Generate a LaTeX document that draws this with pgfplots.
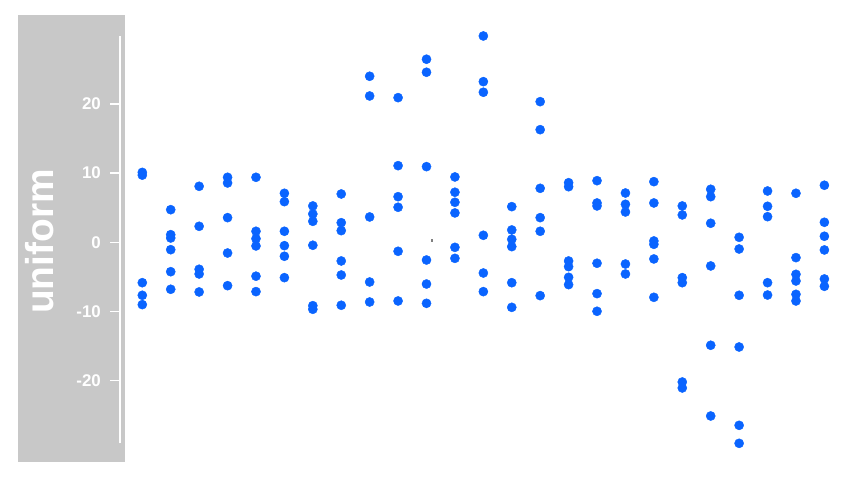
\documentclass[border=0pt]{standalone}
\usepackage{pgfplots}
\pgfplotsset{compat=1.18}
\usepackage{fontspec}
\setmainfont{Liberation Sans}
\definecolor{dotblue}{RGB}{10,100,255}
\definecolor{bandgray}{RGB}{200,200,200}
\begin{document}
\begin{tikzpicture}
\begin{axis}[
    scale only axis,
    width=864bp, height=480bp,
    xmin=-5.007, xmax=25.394,
    ymin=-34.35, ymax=35.01,
    hide axis,
    clip=false,
  ]
  % frame of the whole picture
  \path (rel axis cs:0,0) rectangle (rel axis cs:1,1);
  % grey band with the y scale
  \fill[bandgray] (axis cs:-4.391,32.85) rectangle (axis cs:-0.619,-31.82);
  \draw[white, line width=2bp] (axis cs:-0.785,-29.05) -- (axis cs:-0.785,29.81);
  \pgfplotsinvokeforeach{-20,-10,0,10,20}{
    \draw[white, line width=1.5bp] (axis cs:-1.137,#1) -- (axis cs:-0.785,#1);
    \node[anchor=east, text=white, font=\fontsize{17}{17}\selectfont\bfseries,
          inner sep=0pt] at (axis cs:-1.45,#1) {#1};
  }
  \node[rotate=90, text=white, font=\fontsize{39}{39}\selectfont\bfseries]
    at (axis cs:-3.60,0.1) {uniform};

  \addplot[only marks, mark=*, mark size=4.6pt, color=dotblue] coordinates {
    (0,10.1) (0,9.7) (0,-5.84) (0,-7.66) (0,-9.01)
    (1,4.71) (1,1.10) (1,0.62) (1,-1.07) (1,-4.25) (1,-6.79)
    (2,8.09) (2,2.31) (2,-3.90) (2,-4.58) (2,-7.18)
    (3,9.39) (3,8.57) (3,3.56) (3,-1.55) (3,-6.27)
    (4,9.39) (4,1.59) (4,0.52) (4,-0.53) (4,-4.90) (4,-7.13)
    (5,7.08) (5,5.87) (5,1.59) (5,-0.49) (5,-2.02) (5,-5.11)
    (6,5.25) (6,4.09) (6,3.03) (6,-0.43) (6,-9.16) (6,-9.68)
    (7,6.98) (7,2.83) (7,1.68) (7,-2.70) (7,-4.73) (7,-9.10)
    (8,23.99) (8,21.14) (8,3.66) (8,-5.74) (8,-8.63)
    (9,20.90) (9,11.07) (9,6.59) (9,5.06) (9,-1.30) (9,-8.48)
    (10,26.45) (10,24.57) (10,10.93) (10,-2.56) (10,-6.03) (10,-8.82)
    (11,9.44) (11,7.23) (11,5.78) (11,4.24) (11,-0.73) (11,-2.32)
    (12,29.81) (12,23.21) (12,21.68) (12,1.01) (12,-4.44) (12,-7.13)
    (13,5.15) (13,1.78) (13,0.43) (13,-0.63) (13,-5.84) (13,-9.40)
    (14,20.32) (14,16.27) (14,7.80) (14,3.56) (14,1.59) (14,-7.71)
    (15,8.61) (15,8.03) (15,-2.70) (15,-3.52) (15,-5.06) (15,-6.12)
    (16,8.90) (16,5.68) (16,5.25) (16,-3.03) (16,-7.42) (16,-9.97)
    (17,7.12) (17,5.49) (17,4.38) (17,-3.14) (17,-4.58)
    (18,8.76) (18,5.68) (18,0.19) (18,-0.29) (18,-2.41) (18,-7.95)
    (19,5.25) (19,3.95) (19,-5.11) (19,-5.84) (19,-20.19) (19,-21.05)
    (20,7.66) (20,6.59) (20,2.75) (20,-3.42) (20,-14.88) (20,-25.10)
    (21,0.72) (21,-0.97) (21,-7.66) (21,-15.13) (21,-26.45) (21,-29.05)
    (22,7.41) (22,5.20) (22,3.70) (22,-5.84) (22,-7.62)
    (23,7.08) (23,-2.22) (23,-4.63) (23,-5.59) (23,-7.52) (23,-8.48)
    (24,8.24) (24,2.89) (24,0.87) (24,-1.11) (24,-5.30) (24,-6.36)
  };
  % the tiny grey speck near the middle
  \addplot[only marks, mark=square*, mark size=0.8pt, color=gray] coordinates {(10.18,0.33)};
\end{axis}
\end{tikzpicture}
\end{document}
